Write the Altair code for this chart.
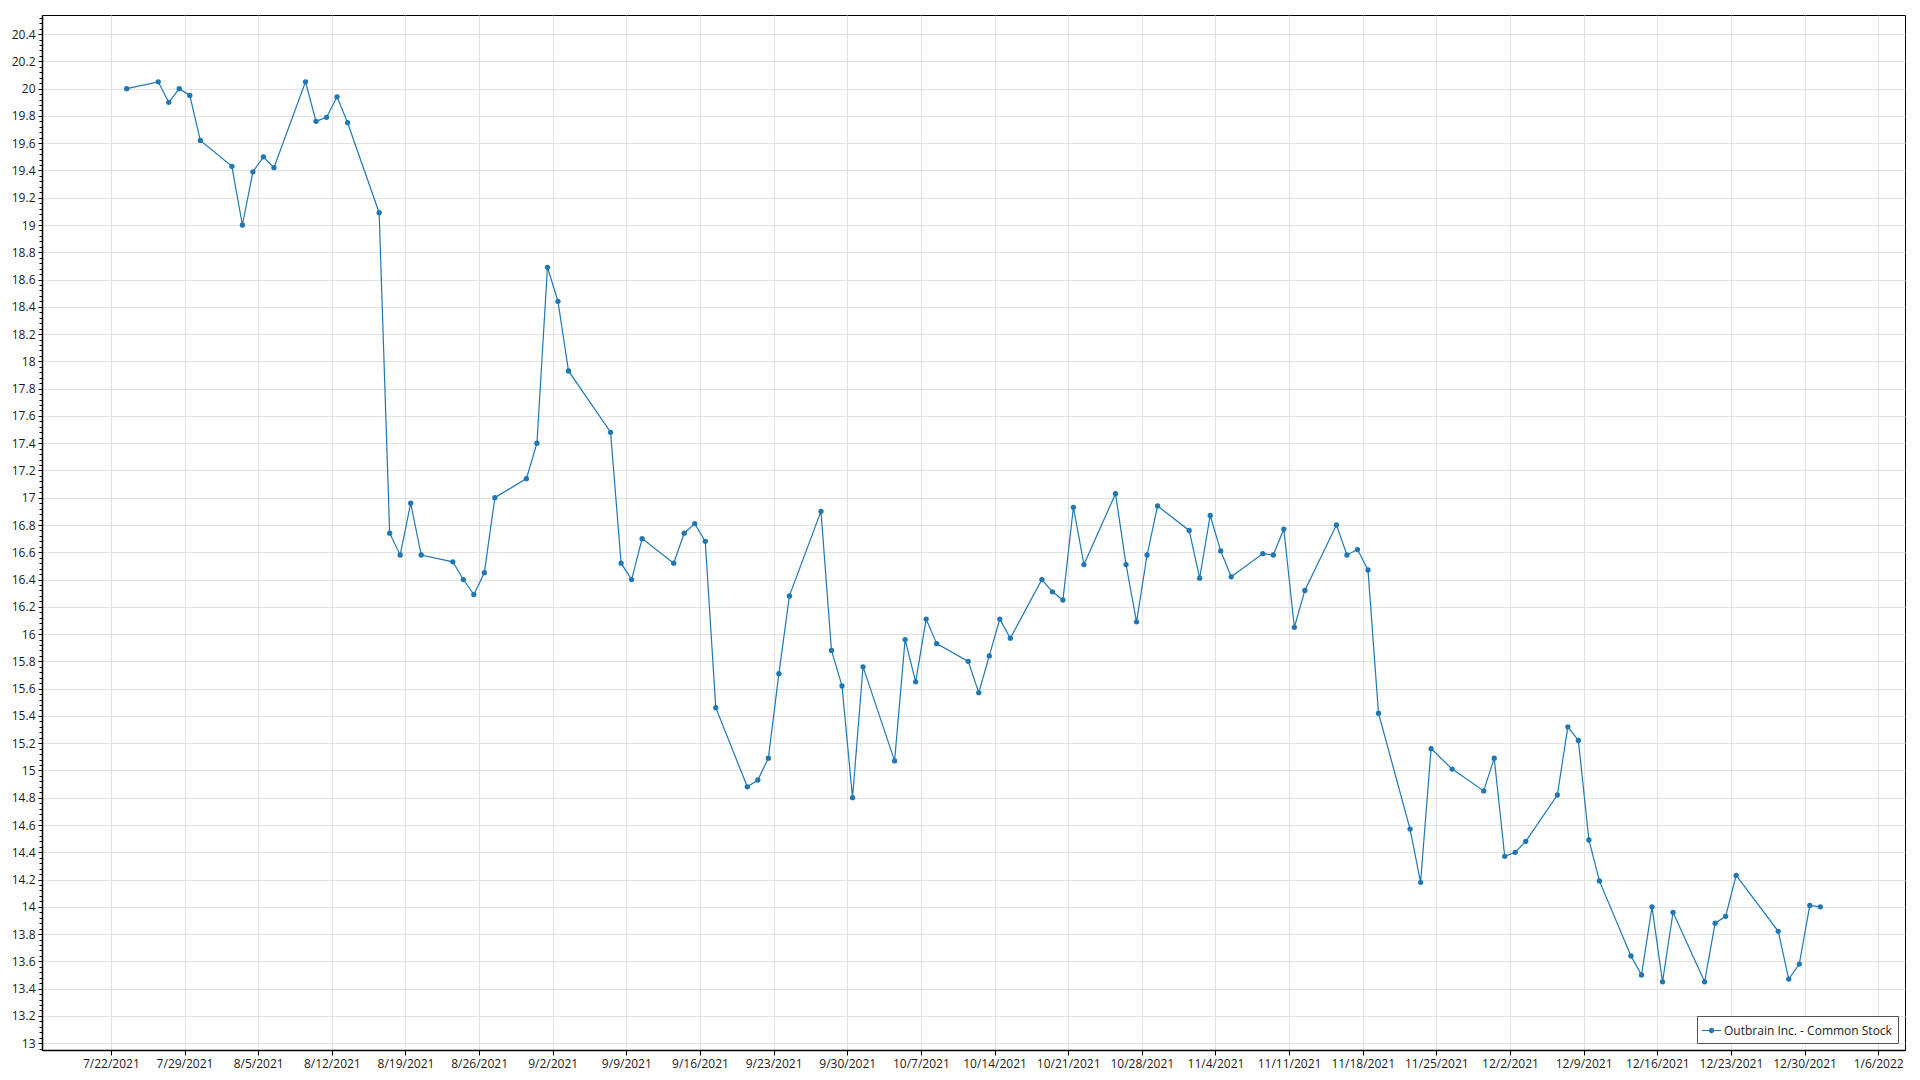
import altair as alt
import pandas as pd

series_name = "Outbrain Inc. - Common Stock"

dates = [
    "2021-07-23", "2021-07-26", "2021-07-27", "2021-07-28", "2021-07-29", "2021-07-30",
    "2021-08-02", "2021-08-03", "2021-08-04", "2021-08-05", "2021-08-06",
    "2021-08-09", "2021-08-10", "2021-08-11", "2021-08-12", "2021-08-13",
    "2021-08-16", "2021-08-17", "2021-08-18", "2021-08-19", "2021-08-20",
    "2021-08-23", "2021-08-24", "2021-08-25", "2021-08-26", "2021-08-27",
    "2021-08-30", "2021-08-31", "2021-09-01", "2021-09-02", "2021-09-03",
    "2021-09-07", "2021-09-08", "2021-09-09", "2021-09-10",
    "2021-09-13", "2021-09-14", "2021-09-15", "2021-09-16", "2021-09-17",
    "2021-09-20", "2021-09-21", "2021-09-22", "2021-09-23", "2021-09-24",
    "2021-09-27", "2021-09-28", "2021-09-29", "2021-09-30", "2021-10-01",
    "2021-10-04", "2021-10-05", "2021-10-06", "2021-10-07", "2021-10-08",
    "2021-10-11", "2021-10-12", "2021-10-13", "2021-10-14", "2021-10-15",
    "2021-10-18", "2021-10-19", "2021-10-20", "2021-10-21", "2021-10-22",
    "2021-10-25", "2021-10-26", "2021-10-27", "2021-10-28", "2021-10-29",
    "2021-11-01", "2021-11-02", "2021-11-03", "2021-11-04", "2021-11-05",
    "2021-11-08", "2021-11-09", "2021-11-10", "2021-11-11", "2021-11-12",
    "2021-11-15", "2021-11-16", "2021-11-17", "2021-11-18", "2021-11-19",
    "2021-11-22", "2021-11-23", "2021-11-24", "2021-11-26",
    "2021-11-29", "2021-11-30", "2021-12-01", "2021-12-02", "2021-12-03",
    "2021-12-06", "2021-12-07", "2021-12-08", "2021-12-09", "2021-12-10",
    "2021-12-13", "2021-12-14", "2021-12-15", "2021-12-16", "2021-12-17",
    "2021-12-20", "2021-12-21", "2021-12-22", "2021-12-23",
    "2021-12-27", "2021-12-28", "2021-12-29", "2021-12-30", "2021-12-31",
]

prices = [
    20.00, 20.05, 19.90, 20.00, 19.95, 19.62,
    19.43, 19.00, 19.39, 19.50, 19.42,
    20.05, 19.76, 19.79, 19.94, 19.75,
    19.09, 16.74, 16.58, 16.96, 16.58,
    16.53, 16.40, 16.29, 16.45, 17.00,
    17.14, 17.40, 18.69, 18.44, 17.93,
    17.48, 16.52, 16.40, 16.70,
    16.52, 16.74, 16.81, 16.68, 15.46,
    14.88, 14.93, 15.09, 15.71, 16.28,
    16.90, 15.88, 15.62, 14.80, 15.76,
    15.07, 15.96, 15.65, 16.11, 15.93,
    15.80, 15.57, 15.84, 16.11, 15.97,
    16.40, 16.31, 16.25, 16.93, 16.51,
    17.03, 16.51, 16.09, 16.58, 16.94,
    16.76, 16.41, 16.87, 16.61, 16.42,
    16.59, 16.58, 16.77, 16.05, 16.32,
    16.80, 16.58, 16.62, 16.47, 15.42,
    14.57, 14.18, 15.16, 15.01,
    14.85, 15.09, 14.37, 14.40, 14.48,
    14.82, 15.32, 15.22, 14.49, 14.19,
    13.64, 13.50, 14.00, 13.45, 13.96,
    13.45, 13.88, 13.93, 14.23,
    13.82, 13.47, 13.58, 14.01, 14.00,
]

# weekly x tick dates (labels)
x_tick_dates = [
    "2021-07-22", "2021-07-29", "2021-08-05", "2021-08-12", "2021-08-19", "2021-08-26",
    "2021-09-02", "2021-09-09", "2021-09-16", "2021-09-23", "2021-09-30",
    "2021-10-07", "2021-10-14", "2021-10-21", "2021-10-28",
    "2021-11-04", "2021-11-11", "2021-11-18", "2021-11-25",
    "2021-12-02", "2021-12-09", "2021-12-16", "2021-12-23", "2021-12-30",
    "2022-01-06",
]

y_major = [round(13 + 0.2 * i, 1) for i in range(38)]        # 13 .. 20.4
y_minor = [round(12.96 + 0.04 * i, 2) for i in range(190)]   # minor ticks

df = pd.DataFrame({
    "date": [d + "T12:00:00" for d in dates],
    "price": prices,
    "series": series_name,
})


def dt(s, h=0, m=0):
    y, mo, d = (int(p) for p in s.split("-"))
    return alt.DateTime(year=y, month=mo, date=d, hours=h, minutes=m)


x_scale = alt.Scale(domain=[dt("2021-07-15", 10, 48), dt("2022-01-08", 13, 12)], nice=False)
y_scale = alt.Scale(domain=[12.95, 20.54], nice=False, zero=False)

FONT = "Open Sans"

x_axis = alt.Axis(
    values=[dt(s) for s in x_tick_dates],
    format="%-m/%-d/%Y",
    title=None,
    labelFont=FONT, labelFontSize=12, labelColor="#1a1a1a",
    labelPadding=3, tickSize=5, tickColor="#000", domainColor="#000", domainWidth=1.5,
    gridColor="#e2e2e2", grid=True, labelOverlap=False,
)

y_axis = alt.Axis(
    values=y_major, format=".3~g", title=None,
    labelFont=FONT, labelFontSize=12, labelColor="#1a1a1a",
    labelPadding=3, tickSize=4, tickColor="#000", domainColor="#000", domainWidth=1.5,
    gridColor="#e2e2e2", grid=True, orient="left",
)

y_minor_axis = alt.Axis(
    values=y_minor, labels=False, grid=False, domain=False, title=None,
    tickSize=3, tickColor="#000", orient="left",
)

color = alt.Color(
    "series:N",
    scale=alt.Scale(range=["#1f77b4"]),
    legend=alt.Legend(
        title=None, orient="bottom-right", offset=7,
        symbolType="M-1.2,-0.07H1.2V0.07H-1.2Z M0.33,0A0.33,0.33,0,1,1,-0.33,0A0.33,0.33,0,1,1,0.33,0Z",
        symbolSize=260, symbolStrokeWidth=0,
        labelFont=FONT, labelFontSize=12, labelColor="#1a1a1a", labelLimit=400,
        padding=6, strokeColor="#555555", fillColor="white",
    ),
)

base = alt.Chart(df)

line = base.mark_line(strokeWidth=1.2).encode(
    x=alt.X("date:T", scale=x_scale, axis=x_axis),
    y=alt.Y("price:Q", scale=y_scale, axis=y_axis),
    color=color,
)

points = base.mark_point(filled=True, size=28, opacity=1).encode(
    x=alt.X("date:T", scale=x_scale, axis=x_axis),
    y=alt.Y("price:Q", scale=y_scale, axis=None),
    color=color,
)

minor = base.mark_point(opacity=0).encode(
    x=alt.X("date:T", scale=x_scale, axis=x_axis),
    y=alt.Y("price:Q", scale=y_scale, axis=y_minor_axis),
)

chart = (
    alt.layer(line, points, minor)
    .resolve_axis(y="independent")
    .properties(
        width=1863, height=1035,
        autosize=alt.AutoSizeParams(type="none"),
        padding={"left": 34, "top": 7, "right": 5, "bottom": 22},
        background="white",
    )
    .configure_view(stroke="#000", strokeWidth=1)
)

chart.save("out.html", embed_options={"renderer": "svg", "actions": False})
